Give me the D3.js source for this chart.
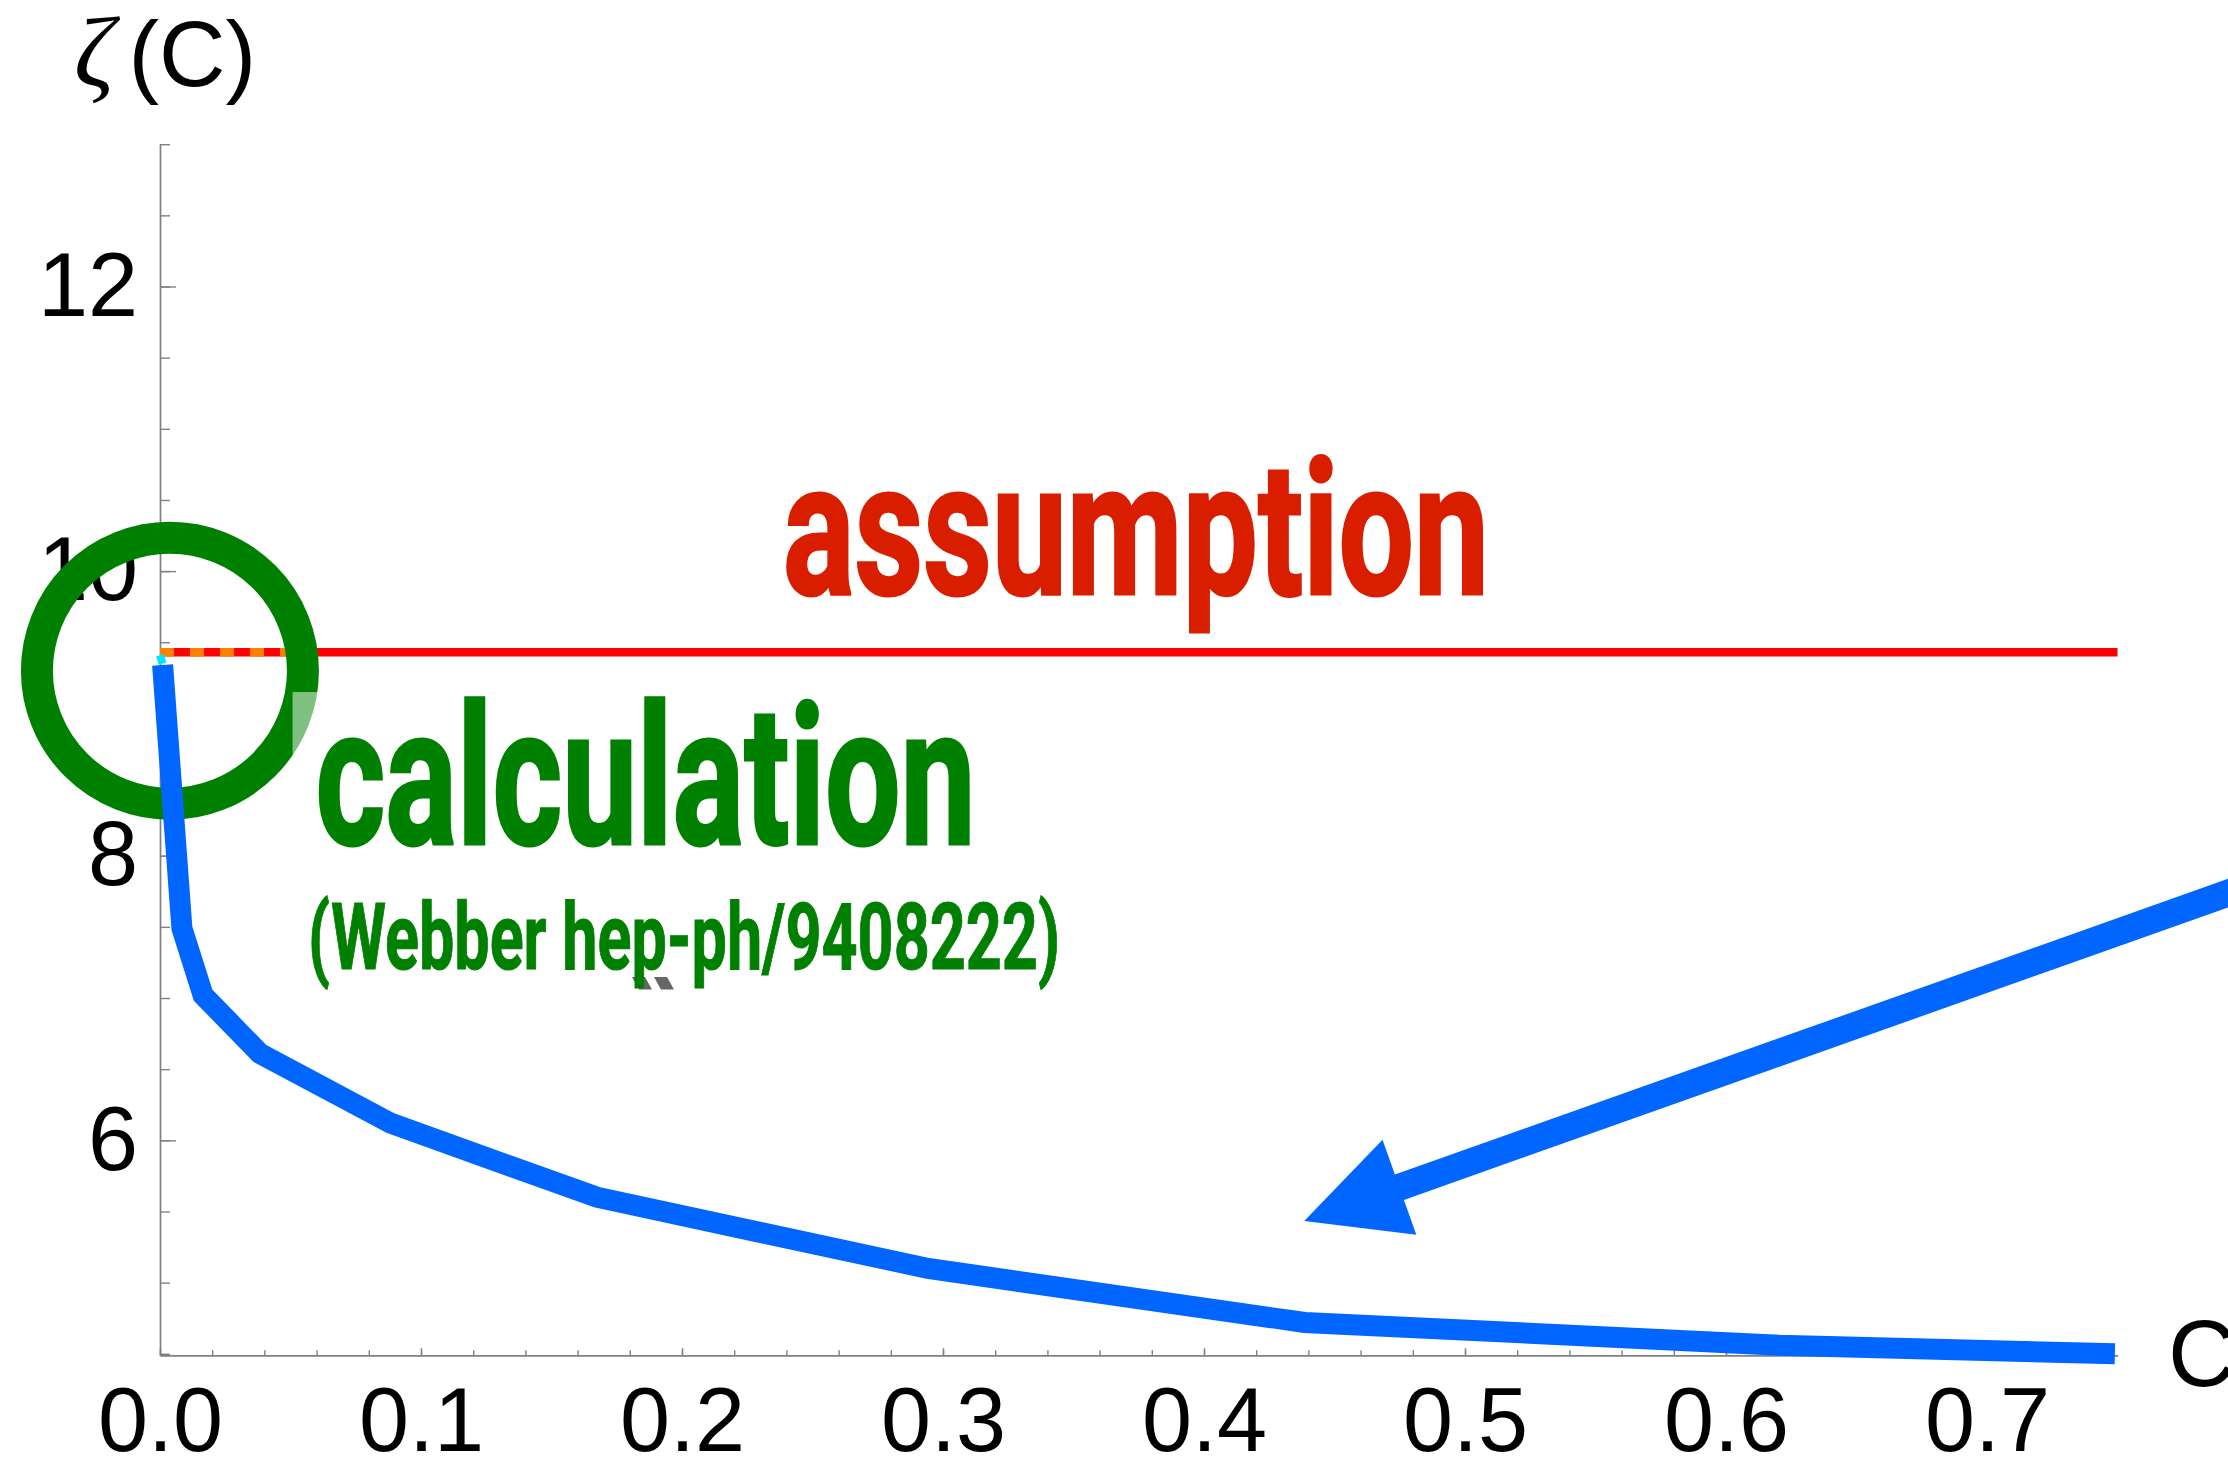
<!DOCTYPE html>
<html>
<head>
<meta charset="utf-8">
<script src="https://cdn.jsdelivr.net/npm/d3@7"></script>
<style>
  html, body { margin: 0; padding: 0; background: #fff; }
  svg { display: block; }
</style>
</head>
<body>
<svg id="chart" width="2228" height="1464"></svg>
<script>
// ζ(C) as a function of C: flat model assumption vs. calculated curve

// calculated curve (Webber hep-ph/9408222)
const calcC    = [0.001, 0.0084, 0.0165, 0.0383, 0.0884, 0.1674, 0.2943, 0.4385, 0.6203, 0.749];
const calcZeta = [9.34, 7.49, 7.02, 6.61, 6.12, 5.60, 5.10, 4.72, 4.56, 4.50];

// constant assumption
const assumeC    = [0, 0.75];
const assumeZeta = [9.43, 9.43];

// short dashed overlay at the start of the assumption line
const overlayC    = [0, 0.05];
const overlayZeta = [9.43, 9.43];

// tiny cyan stub joining the two curves at C = 0
const stubC    = [0.0, 0.001];
const stubZeta = [9.41, 9.35];

// axis ticks
const xTickValues = [0, 0.1, 0.2, 0.3, 0.4, 0.5, 0.6, 0.7];
const xTickLabels = ["0.0", "0.1", "0.2", "0.3", "0.4", "0.5", "0.6", "0.7"];
const yTickValues = [6, 8, 10, 12];
const yTickLabels = ["6", "8", "10", "12"];

// annotation anchors (data coordinates)
const ringCenter   = [0.0038, 9.30];
const arrowTip     = [0.4384, 5.433];
const arrowTail    = [0.82, 7.917];
const assumeLabel  = [0.2387, 9.839];
const calcLabel    = [0.0596, 8.082];
const refLabel     = [0.0567, 7.204];

const svg = d3.select("#chart");

const x = d3.scaleLinear().domain([0, 0.75]).range([160, 2117.5]);
const y = d3.scaleLinear().domain([4.49, 13]).range([1355.2, 144.2]);

const axisColor = "#808080";
const tickFont = "'Liberation Sans', Arial, sans-serif";

// ---- x axis ----
const xMinor = d3.range(0, 0.7401, 0.02);
const gxMinor = svg.append("g").attr("transform", `translate(0,${y(4.49)})`)
  .call(d3.axisBottom(x).tickValues(xMinor).tickSize(-5).tickSizeOuter(0).tickFormat(""));
const gx = svg.append("g").attr("transform", `translate(0,${y(4.49)})`)
  .call(d3.axisBottom(x).tickValues(xTickValues).tickSize(-7).tickSizeOuter(0)
        .tickPadding(32).tickFormat((d, i) => xTickLabels[i]));

// ---- y axis ----
const yMinor = d3.range(4.5, 13.001, 0.5);
const gyMinor = svg.append("g").attr("transform", `translate(${x(0)},0)`)
  .call(d3.axisLeft(y).tickValues(yMinor).tickSize(-10).tickSizeOuter(0).tickFormat(""));
const gy = svg.append("g").attr("transform", `translate(${x(0)},0)`)
  .call(d3.axisLeft(y).tickValues(yTickValues).tickSize(-16).tickSizeOuter(0)
        .tickPadding(22).tickFormat((d, i) => yTickLabels[i]));

[gxMinor, gx, gyMinor, gy].forEach(g => {
  g.selectAll("path.domain").attr("stroke", axisColor).attr("stroke-width", 1.4);
  g.selectAll(".tick line").attr("stroke", axisColor).attr("stroke-width", 1.4);
  g.selectAll(".tick text").attr("fill", "#000").attr("font-family", tickFont).attr("font-size", 90);
});

// axis titles
const yTitle = svg.append("text").attr("x", 74).attr("y", 86)
  .attr("font-family", tickFont).attr("font-size", 92).attr("fill", "#000");
yTitle.append("tspan").attr("font-family", "'Liberation Serif', 'DejaVu Serif', serif")
  .attr("font-style", "italic").attr("font-size", 100).text("ζ");
yTitle.append("tspan").attr("dx", 14).text("(C)");

svg.append("text").attr("x", 2168).attr("y", 1386)
  .attr("font-family", tickFont).attr("font-size", 94).attr("fill", "#000").text("C");

// ---- curves ----
const line = d3.line().x(d => x(d[0])).y(d => y(d[1]));
const zip = (a, b) => a.map((v, i) => [v, b[i]]);

svg.append("path").datum(zip(assumeC, assumeZeta))
  .attr("d", line).attr("fill", "none").attr("stroke", "#ff0000").attr("stroke-width", 8.5);

svg.append("path").datum(zip(overlayC, overlayZeta))
  .attr("d", line).attr("fill", "none").attr("stroke", "#ff8000").attr("stroke-width", 8.5)
  .attr("stroke-dasharray", "14 16");

// highlight ring around C = 0
svg.append("circle")
  .attr("cx", x(ringCenter[0])).attr("cy", y(ringCenter[1])).attr("r", 133)
  .attr("fill", "none").attr("stroke", "#008000").attr("stroke-width", 32);

// translucent box behind the "calculation" label
const clx = x(calcLabel[0]), cly = y(calcLabel[1]);
svg.append("rect").attr("x", clx - 23).attr("y", cly - 152)
  .attr("width", 700).attr("height", 185).attr("fill", "#fff").attr("fill-opacity", 0.5);

svg.append("path").datum(zip(stubC, stubZeta))
  .attr("d", line).attr("fill", "none").attr("stroke", "#00e5ff").attr("stroke-width", 8);

svg.append("path").datum(zip(calcC, calcZeta))
  .attr("d", line).attr("fill", "none").attr("stroke", "#0066ff").attr("stroke-width", 21)
  .attr("stroke-linejoin", "miter").attr("stroke-linecap", "butt");

// ---- arrow ----
(function drawArrow() {
  const t = [x(arrowTip[0]), y(arrowTip[1])];
  const e = [x(arrowTail[0]), y(arrowTail[1])];
  const len = Math.hypot(e[0] - t[0], e[1] - t[1]);
  const u = [(e[0] - t[0]) / len, (e[1] - t[1]) / len];
  const n = [-u[1], u[0]];
  const headLen = 101, headHalf = 50.5, shaftHalf = 13.5;
  const b = [t[0] + u[0] * headLen, t[1] + u[1] * headLen];
  const p = (c, k) => [c[0] + n[0] * k, c[1] + n[1] * k];
  const pts = [t, p(b, headHalf), p(b, shaftHalf), p(e, shaftHalf), p(e, -shaftHalf), p(b, -shaftHalf), p(b, -headHalf)];
  svg.append("path").attr("d", "M" + pts.map(q => q.join(",")).join("L") + "Z").attr("fill", "#0066ff");
})();

// ---- labels ----
const condensed = (sel, color) => sel
  .attr("font-family", "Roboto, 'Liberation Sans', sans-serif")
  .attr("font-weight", 700)
  .attr("fill", color).attr("stroke", color)
  .attr("lengthAdjust", "spacingAndGlyphs");

condensed(svg.append("text").attr("x", x(assumeLabel[0])).attr("y", y(assumeLabel[1]))
  .attr("font-size", 188).attr("stroke-width", 3).attr("textLength", 706), "#d91e00")
  .text("assumption");

condensed(svg.append("text").attr("x", clx).attr("y", cly)
  .attr("font-size", 194).attr("stroke-width", 3).attr("textLength", 660), "#008000")
  .text("calculation");

// small grey marks beneath the reference line
const rlx = x(refLabel[0]), rly = y(refLabel[1]);
[0, 22].forEach(dx => {
  const ox = rlx + 324 + dx, oy = rly + 8;
  svg.append("path")
    .attr("d", `M${ox},${oy}L${ox + 13},${oy}L${ox + 20},${oy + 12.6}L${ox + 7},${oy + 12.6}Z`)
    .attr("fill", "#666");
});

condensed(svg.append("text").attr("x", rlx).attr("y", rly)
  .attr("font-size", 92).attr("stroke-width", 1).attr("textLength", 752), "#008000")
  .text("(Webber hep-ph/9408222)");
</script>
</body>
</html>
